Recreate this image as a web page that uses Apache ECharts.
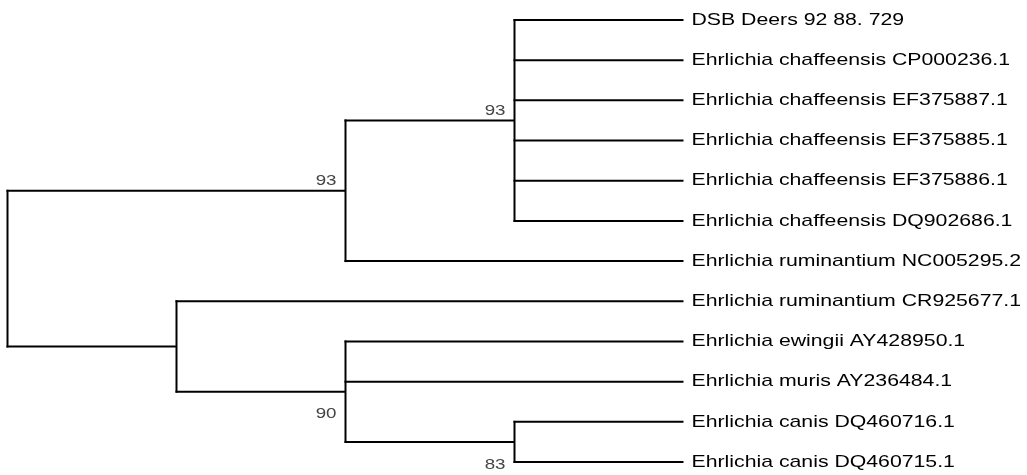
<!DOCTYPE html>
<html>
<head>
<meta charset="utf-8">
<script src="https://cdn.jsdelivr.net/npm/echarts@6/dist/echarts.min.js"></script>
<style>html,body{margin:0;padding:0;background:#fff}#c{width:1027px;height:475px}</style>
</head>
<body>
<div id="c"></div>
<script>
// ---- data ----
const leafNames = [
  'DSB Deers 92 88. 729',
  'Ehrlichia chaffeensis CP000236.1',
  'Ehrlichia chaffeensis EF375887.1',
  'Ehrlichia chaffeensis EF375885.1',
  'Ehrlichia chaffeensis EF375886.1',
  'Ehrlichia chaffeensis DQ902686.1',
  'Ehrlichia ruminantium NC005295.2',
  'Ehrlichia ruminantium CR925677.1',
  'Ehrlichia ewingii AY428950.1',
  'Ehrlichia muris AY236484.1',
  'Ehrlichia canis DQ460716.1',
  'Ehrlichia canis DQ460715.1'
];
const leafParent = ['B','B','B','B','B','B','A','C','D','D','E','E'];
const leafDepth = 4;
const nodeIds    = ['R', 'A', 'B', 'C', 'D', 'E'];
const nodeParent = [null,'R', 'A', 'R', 'C', 'D'];
const nodeDepth  = [0,   2,   3,   1,   2,   3];
const bootValues = [null, 93, 93, null, 90, 83];
const bootSide   = [null, 'above', 'above', null, 'below', 'below'];

// ---- tree layout from data ----
const nodeY = {};
function yOf(id) {
  if (nodeY[id] !== undefined) return nodeY[id];
  const ys = [];
  leafParent.forEach((p, i) => { if (p === id) ys.push(i); });
  nodeParent.forEach((p, i) => { if (p === id) ys.push(yOf(nodeIds[i])); });
  const v = (Math.min(...ys) + Math.max(...ys)) / 2;
  nodeY[id] = v;
  nodeY[id + '_min'] = Math.min(...ys);
  nodeY[id + '_max'] = Math.max(...ys);
  return v;
}
nodeIds.forEach(yOf);
const depthOf = id => nodeDepth[nodeIds.indexOf(id)];

const segments = [];
leafParent.forEach((p, i) => segments.push([depthOf(p), i, leafDepth, i]));
nodeIds.forEach((id, i) => {
  if (nodeParent[i]) segments.push([depthOf(nodeParent[i]), nodeY[id], nodeDepth[i], nodeY[id]]);
  segments.push([nodeDepth[i], nodeY[id + '_min'], nodeDepth[i], nodeY[id + '_max']]);
});
const leafLabelData = leafNames.map((n, i) => [leafDepth, i, n]);
const bootData = [];
nodeIds.forEach((id, i) => {
  if (bootValues[i] != null) bootData.push([nodeDepth[i], nodeY[id], String(bootValues[i]), bootSide[i]]);
});

const SX = 1.25;
const chart = echarts.init(document.getElementById('c'), null, {renderer: 'canvas'});
chart.setOption({
  animation: false,
  grid: {left: 7.5, right: 343.5, top: 20, bottom: 13},
  xAxis: {type: 'value', min: 0, max: 4, show: false},
  yAxis: {type: 'value', min: 0, max: 11, inverse: true, show: false},
  series: [
    {
      type: 'custom',
      clip: false,
      data: segments,
      encode: {x: [0, 2], y: [1, 3]},
      renderItem: function (params, api) {
        const a = api.coord([api.value(0), api.value(1)]);
        const b = api.coord([api.value(2), api.value(3)]);
        const dx = a[0] === b[0] ? 0 : 0;
        return {
          type: 'line',
          shape: {x1: a[0] - (a[0] === b[0] ? 0 : 1), y1: a[1] - (a[0] === b[0] ? 1 : 0), x2: b[0] + dx, y2: b[1] + (a[0] === b[0] ? 1 : 0)},
          style: {stroke: '#000', lineWidth: 2}
        };
      }
    },
    {
      type: 'custom',
      clip: false,
      data: leafLabelData,
      encode: {x: 0, y: 1},
      renderItem: function (params, api) {
        const p = api.coord([api.value(0), api.value(1)]);
        return {
          type: 'text',
          x: p[0] + 8, y: p[1],
          scaleX: SX, scaleY: 1, originX: 0, originY: 0,
          style: {
            x: 0, y: 0,
            text: leafLabelData[params.dataIndex][2],
            fill: '#000',
            font: '17px "Liberation Sans", Arial, sans-serif',
            align: 'left', verticalAlign: 'middle'
          }
        };
      }
    },
    {
      type: 'custom',
      clip: false,
      data: bootData,
      encode: {x: 0, y: 1},
      renderItem: function (params, api) {
        const d = bootData[params.dataIndex];
        const p = api.coord([d[0], d[1]]);
        const above = d[3] === 'above';
        return {
          type: 'text',
          x: p[0] - 9, y: above ? p[1] - 2 : p[1] + 15,
          scaleX: SX, scaleY: 1, originX: 0, originY: 0,
          style: {
            x: 0, y: 0,
            text: d[2],
            fill: '#444',
            font: '15px "Liberation Sans", Arial, sans-serif',
            align: 'right', verticalAlign: above ? 'bottom' : 'top'
          }
        };
      }
    }
  ]
});
</script>
</body>
</html>
